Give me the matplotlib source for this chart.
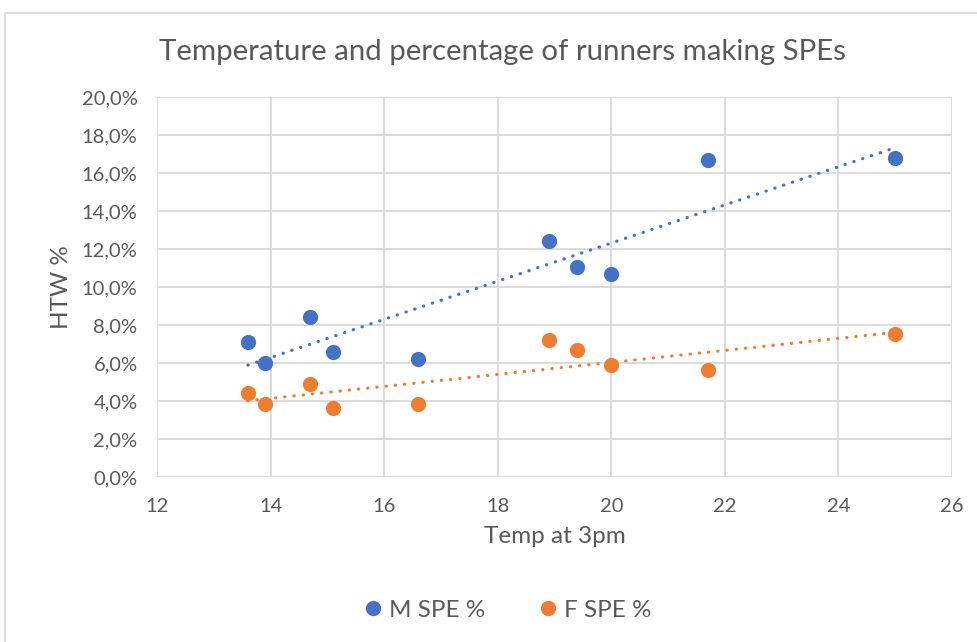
import numpy as np
import matplotlib
matplotlib.use("Agg")
import matplotlib.pyplot as plt
from matplotlib.patches import Rectangle
from matplotlib.lines import Line2D
from matplotlib.ticker import FuncFormatter

plt.rcParams['font.family'] = ['Lato', 'DejaVu Sans']

# data
temp = [13.6, 13.9, 14.7, 15.1, 16.6, 18.9, 19.4, 20.0, 21.7, 25.0]
m_spe = [7.1, 6.0, 8.4, 6.6, 6.2, 12.4, 11.05, 10.7, 16.7, 16.8]
f_spe = [4.4, 3.85, 4.9, 3.65, 3.85, 7.2, 6.7, 5.9, 5.65, 7.55]
series_labels = ["M SPE %", "F SPE %"]

colorM = "#4472C4"
colorF = "#ED7D31"
txtColor = "#595959"
gridColor = "#D9D9D9"

fig = plt.figure(figsize=(9.78, 6.42), dpi=100)
ax = fig.add_axes([157/978, 1 - 477/642, (952-157)/978, (477-97)/642])

# chart border (cut off on the right / bottom like the screenshot)
fig.patches.append(Rectangle((5/978, -0.1), 1.2, (642-13)/642 + 0.1,
                             transform=fig.transFigure, fill=False,
                             edgecolor=gridColor, lw=1.3, zorder=0))

x = np.array(temp)
for ys, col in ((m_spe, colorM), (f_spe, colorF)):
    ys = np.array(ys)
    ax.scatter(x, ys, s=120, color=col, zorder=3, linewidths=0)
    # linear trendline
    k, c = np.polyfit(x, ys, 1)
    xl = np.array([x.min(), x.max()])
    ax.plot(xl, k*xl + c, color=col, lw=2.3, linestyle=(0, (0.1, 2.8)),
            dash_capstyle='round', zorder=2)

ax.set_xlim(12, 26)
ax.set_ylim(0, 20)
ax.set_xticks(np.arange(12, 27, 2))
ax.set_yticks(np.arange(0, 21, 2))
ax.yaxis.set_major_formatter(FuncFormatter(lambda v, p: f"{v:.1f}%".replace('.', ',')))
ax.grid(True, color=gridColor, lw=1.3)
ax.set_axisbelow(True)
for s in ax.spines.values():
    s.set_visible(False)
ax.tick_params(length=0, labelsize=14.5, labelcolor=txtColor)
ax.tick_params(axis='y', pad=14)
ax.tick_params(axis='x', pad=15)

ax.set_xlabel("Temp at 3pm", fontsize=17.5, color=txtColor, labelpad=8)
ax.set_ylabel("HTW %", fontsize=17.5, color=txtColor, labelpad=7)

fig.text(502/978, 1 - 52/642, "Temperature and percentage of runners making SPEs",
         ha='center', va='center', fontsize=21.2, color=txtColor)

handles = [Line2D([], [], marker='o', ls='', color=colorM, markersize=10),
           Line2D([], [], marker='o', ls='', color=colorF, markersize=10)]
fig.legend(handles, series_labels, loc='center', bbox_to_anchor=(505/978, 1 - 610/642),
           ncol=2, frameon=False, fontsize=17.5, labelcolor=txtColor,
           handletextpad=0.05, columnspacing=2.0, handlelength=1.2)

fig.savefig("out.png", dpi=100)
